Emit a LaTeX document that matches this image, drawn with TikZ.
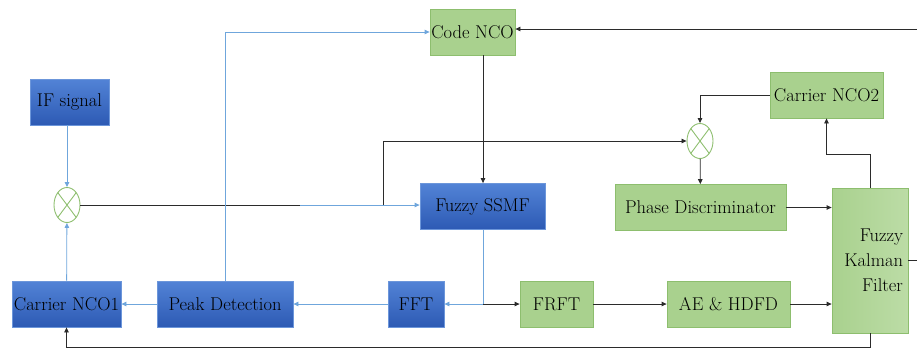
\documentclass[tikz,border=0pt]{standalone}
\usepackage{fontspec}
\usetikzlibrary{arrows.meta,shapes.geometric}
\definecolor{ink}{HTML}{2B2B2B}
\definecolor{wire}{HTML}{6FA6DC}
\definecolor{blueTop}{HTML}{5283D6}
\definecolor{blueBot}{HTML}{2D5AB4}
\definecolor{blueEdge}{HTML}{6C96DA}
\definecolor{greenFill}{HTML}{A9D18E}
\definecolor{greenEdge}{HTML}{8DBE6E}
\definecolor{greenSoft}{HTML}{BCDCA6}

\begin{document}
\begin{tikzpicture}[
    x=1pt, y=-1pt,
    font=\rmfamily\fontsize{18.5}{21}\selectfont,
    bluebox/.style={draw=blueEdge, line width=0.8pt, top color=blueTop, bottom color=blueBot,
        text=black, inner sep=0pt, minimum height=46pt},
    greenbox/.style={draw=greenEdge, line width=0.8pt, fill=greenFill,
        text=black, inner sep=0pt, minimum height=46pt},
    mixer/.style={ellipse, draw=greenEdge, line width=0.9pt, inner sep=0pt,
        minimum width=26pt, minimum height=35pt,
        path picture={
            \draw[greenEdge, line width=0.9pt]
                (path picture bounding box.north west) -- (path picture bounding box.south east)
                (path picture bounding box.north east) -- (path picture bounding box.south west);
        }},
    link/.style={draw=ink, line width=0.8pt, -{Triangle[length=5pt,width=4.5pt]}},
    bluelink/.style={draw=wire, line width=0.8pt, -{Triangle[length=5pt,width=4.5pt]}},
    plain/.style={draw=ink, line width=0.8pt},
    blueplain/.style={draw=wire, line width=0.8pt}
]

% Page frame, in pixels of the reference.
\useasboundingbox (0,0) rectangle (917,349);

% Acquisition blocks (blue).
\node[bluebox, minimum width=79pt]  (IF)    at (69.5,102)  {IF signal};
\node[bluebox, minimum width=125pt] (SSMF)  at (482.5,206.5) {Fuzzy SSMF};
\node[bluebox, minimum width=56pt]  (FFT)   at (416,304)   {FFT};
\node[bluebox, minimum width=136pt] (Peak)  at (225,304)   {Peak Detection};
\node[bluebox, minimum width=109pt] (NCOa)  at (66.5,304)  {Carrier NCO1};

% Tracking blocks (green).
\node[greenbox, minimum width=85pt]  (Code)  at (472.5,32)  {Code NCO};
\node[greenbox, minimum width=113pt] (NCOb)  at (826.5,95)  {Carrier NCO2};
\node[greenbox, minimum width=171pt] (Phase) at (700.5,207.5) {Phase Discriminator};
\node[greenbox, minimum width=73pt]  (FRFT)  at (556.5,304) {FRFT};
\node[greenbox, minimum width=123pt] (AE)    at (728.5,304) {AE \& HDFD};
\node[greenbox, left color=greenFill, right color=greenSoft, minimum width=76pt,
      minimum height=145pt, align=right, text width=66pt,
      font=\rmfamily\fontsize{18.5}{25}\selectfont] (Kalman) at (870,260.5)
    {Fuzzy\\Kalman\\Filter};

% Mixers.
\node[mixer] (MixA) at (67,205) {};
\node[mixer] (MixB) at (700,141) {};

% Free ends at the right edge and corners of the routes.
\coordinate (EdgeTop) at (917,29);
\coordinate (EdgeMid) at (917,260);
\coordinate (Fork) at (383,205);
\coordinate (Split) at (483,304);

% Acquisition loop.
\draw[bluelink] (IF.south -| MixA) -- (MixA);
\draw[bluelink] (NCOa) -- (MixA);
\draw[plain] (MixA) -- (300,205);
\draw[bluelink] (300,205) -- (SSMF.west |- Fork);
\draw[link] (Fork) |- (MixB);
\draw[bluelink] (Peak.north) |- (Code.west);
\draw[link] (Code.south -| Split) -- (SSMF.north -| Split);
\draw[blueplain] (SSMF.south -| Split) -- (Split);
\draw[bluelink] (Split) -- (FFT);
\draw[link] (Split) -- (FRFT);
\draw[bluelink] (FFT) -- (Peak);
\draw[bluelink] (Peak) -- (NCOa);

% Tracking loop.
\draw[link] (FRFT) -- (AE);
\draw[link] (AE) -- (Kalman.west |- AE);
\draw[link] (Phase) -- (Kalman.west |- Phase);
\draw[link] (NCOb.west) -| (MixB.north);
\draw[link] (MixB) -- (Phase);
\draw[link] (Kalman.north) -- (870,154) -| (NCOb.south);
\draw[plain] (Kalman.east |- EdgeMid) -- (EdgeMid);
\draw[link] (EdgeTop) -- (Code.east |- EdgeTop);
\draw[link] (Kalman.south) -- (870,347) -| (NCOa.south);

\end{tikzpicture}
\end{document}
